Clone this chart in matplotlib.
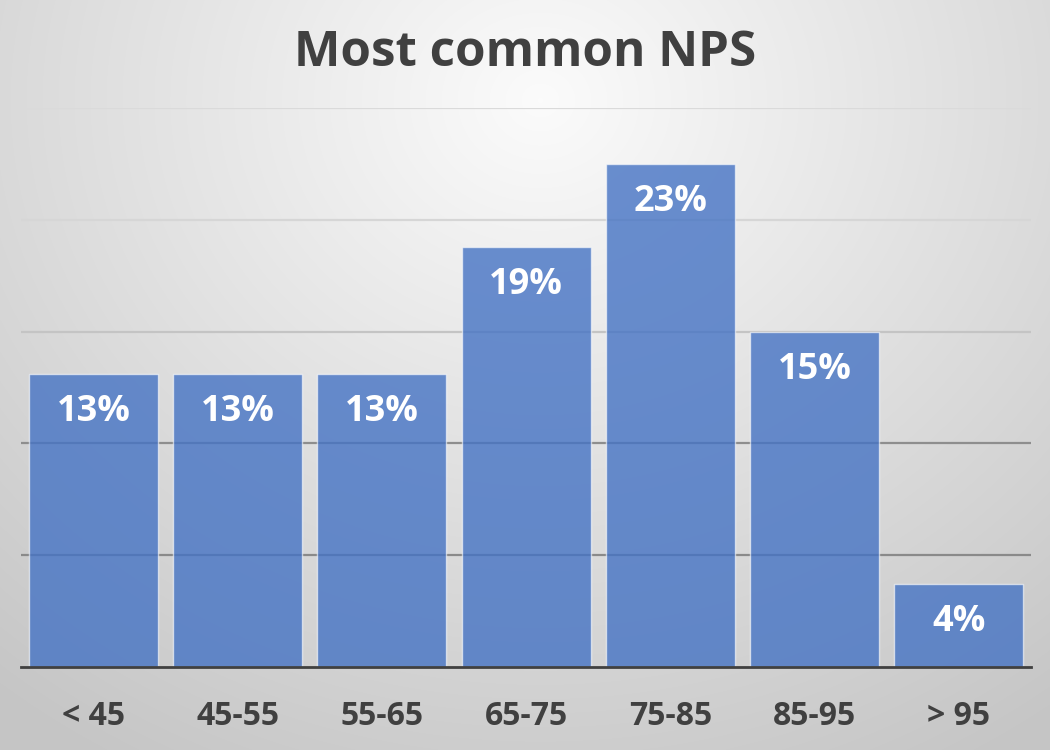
import numpy as np
import matplotlib.pyplot as plt

# données
categories = ["< 45", "45-55", "55-65", "65-75", "75-85", "85-95", "> 95"]
valeurs = [13.1, 13.1, 13.1, 18.8, 22.5, 15.0, 3.7]
etiquettes = ["13%", "13%", "13%", "19%", "23%", "15%", "4%"]
graduations = [5, 10, 15, 20, 25]

plt.rcParams['font.family'] = ['Open Sans', 'DejaVu Sans']

fig = plt.figure(figsize=(10.5, 7.5), dpi=100)

# fond en dégradé radial
bg = fig.add_axes([0, 0, 1, 1], zorder=0)
yy, xx = np.mgrid[0:750, 0:1050]
r = np.sqrt(((xx - 540) / 900.0) ** 2 + ((yy - 100) / 800.0) ** 2)
r = np.clip(r / 0.95, 0, 1)
gris = 0.985 - 0.21 * r
bg.imshow(np.dstack([gris, gris, gris]), extent=[0, 1, 0, 1], aspect='auto', origin='upper')
bg.axis('off')

ax = fig.add_axes([0.0204, 0.1107, 0.9613, 0.7453], zorder=1)
ax.patch.set_alpha(0)

# lignes de grille, plus foncées vers le bas
couleurs_grille = ['#8a8a8a', '#8e8e8e', '#c4c4c4', '#d6d6d6', '#dadada']
for g, c in zip(graduations, couleurs_grille):
    ax.axhline(g, color=c, linewidth=1.6, zorder=1)

x = np.arange(len(categories))
ax.bar(x, valeurs, width=0.895, color=(0.27, 0.45, 0.77, 0.8),
       edgecolor=(1, 1, 1, 0.6), linewidth=1, zorder=2)

for xi, v, lab in zip(x, valeurs, etiquettes):
    ax.text(xi, v - 1.7, lab, ha='center', va='center', color='white',
            fontsize=26, fontweight='bold', zorder=3)

ax.set_xlim(-0.5, len(categories) - 0.5)
ax.set_ylim(0, 25)
ax.set_yticks([])
ax.tick_params(axis='x', bottom=False, pad=20)
ax.set_xticks(x)
ax.set_xticklabels(categories, fontsize=23, fontweight='bold', color='#404040')

for s in ['top', 'right', 'left']:
    ax.spines[s].set_visible(False)
ax.spines['bottom'].set_color('#404040')
ax.spines['bottom'].set_linewidth(2)
ax.spines['bottom'].set_zorder(4)

fig.text(0.5, 0.928, "Most common NPS", ha='center', va='center',
         fontsize=35.5, fontweight='bold', color='#404040')

fig.savefig("out.png", dpi=100)
